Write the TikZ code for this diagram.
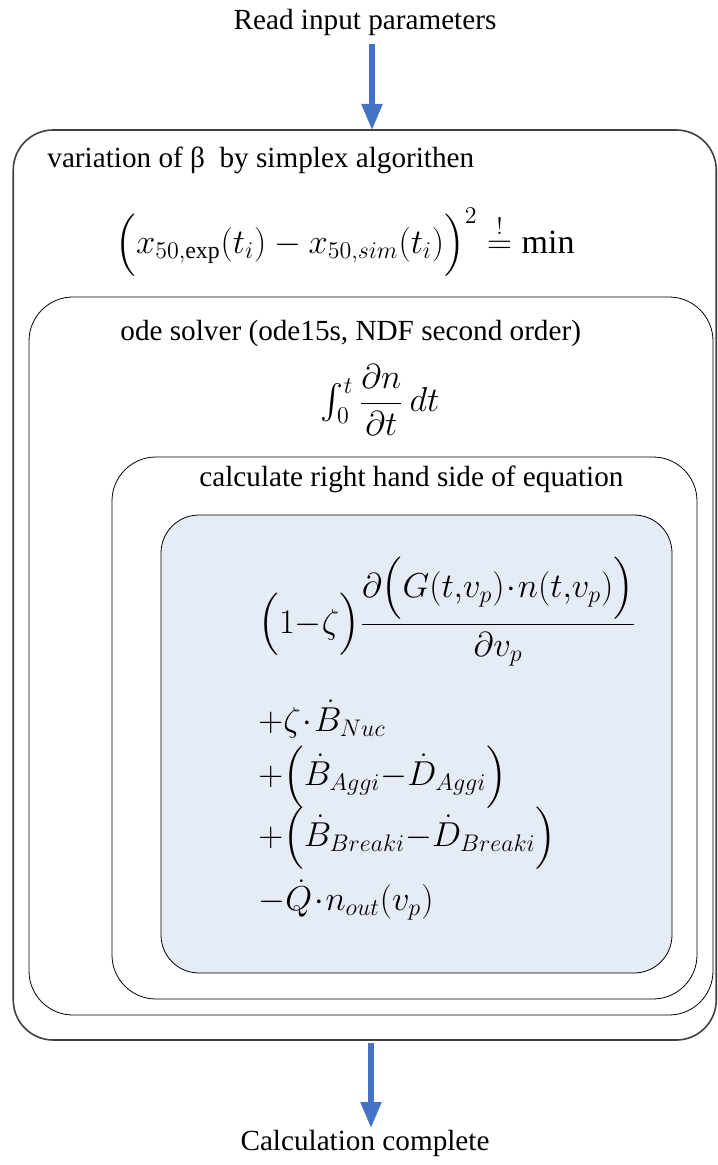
\documentclass[tikz,border=0pt]{standalone}
\usepackage{amsmath}
\usepackage{fontspec}
\setmainfont{Liberation Serif}
\definecolor{FlowBlue}{RGB}{68,114,196}
\definecolor{PanelBlue}{RGB}{230,236,246}
\usetikzlibrary{positioning, arrows.meta}

\begin{document}
\begin{tikzpicture}[x=0.5pt, y=-0.5pt,
    loop/.style={draw, rounded corners=#1, inner sep=0pt},
    flow/.style={-{Triangle[width=10pt, length=13pt]}, FlowBlue, line width=2.6pt},
    label/.style={font=\fontsize{14.6}{16}\selectfont, inner sep=0pt},
    eq/.style={font=\fontsize{17}{20}\selectfont, inner sep=0pt, anchor=west}]
    \useasboundingbox (0,0) rectangle (717,1165);
    % Nested loops
    \node[loop=20pt, draw=black!75, line width=0.8pt, minimum width=351.5pt, minimum height=455pt] (simplex) at (364.75,585) {};
    \node[loop=22pt, minimum width=342pt, minimum height=359pt] (ode) at (371,656) {};
    \node[loop=22pt, minimum width=292.5pt, minimum height=271pt] (rhs) at (404.5,728) {};
    \node[loop=19pt, fill=PanelBlue, minimum width=255.5pt, minimum height=229pt] (panel) at (416.5,744) {};
    % Start / end
    \node[label] (read) at (365,22) {Read input parameters};
    \node[label] (done) at (365,1143) {Calculation complete};
    \coordinate (inTip) at (372,130);
    \coordinate (outTop) at (371,1043);
    \coordinate (outTip) at (371,1128);
    \draw[flow] (read.south -| inTip) ++(0,8) -- (inTip);
    \draw[flow] (outTop) -- (outTip);
    % Simplex loop
    \node[label, anchor=west] (simplexTitle) at (47,160) {variation of β\ \ by simplex algorithen};
    \node[eq, anchor=center] (objective) at (345,242)
        {$\Bigl(x_{50,\mathrm{exp}}(t_i)-x_{50,sim}(t_i)\Bigr)^{2}\overset{!}{=}\mathrm{min}$};
    % ODE loop
    \node[label, anchor=west] (odeTitle) at (120,333) {ode solver (ode15s, NDF second order)};
    \node[eq, anchor=center] (integral) at (380,400) {$\int_0^t\dfrac{\partial n}{\partial t}\,dt$};
    % RHS loop
    \node[label, anchor=west] (rhsTitle) at (199,479) {calculate right hand side of equation};
    \node[eq] (growth) at (258,612)
        {$\displaystyle\Bigl(1{-}\zeta\Bigr)\frac{\partial\Bigl(G(t,\!v_p)\!\cdot\! n(t,\!v_p)\Bigr)}{\partial v_p}$};
    \node[eq] (nuc) at (258,719) {${+}\zeta\!\cdot\!\dot{B}_{Nuc}$};
    \node[eq] (aggi) at (258,777) {${+}\Bigl(\dot{B}_{Aggi}{-}\dot{D}_{Aggi}\Bigr)$};
    \node[eq] (breaki) at (258,838) {${+}\Bigl(\dot{B}_{Breaki}{-}\dot{D}_{Breaki}\Bigr)$};
    \node[eq] (outflow) at (258,900) {${-}\dot{Q}\!\cdot\! n_{out}(v_p)$};
\end{tikzpicture}
\end{document}
